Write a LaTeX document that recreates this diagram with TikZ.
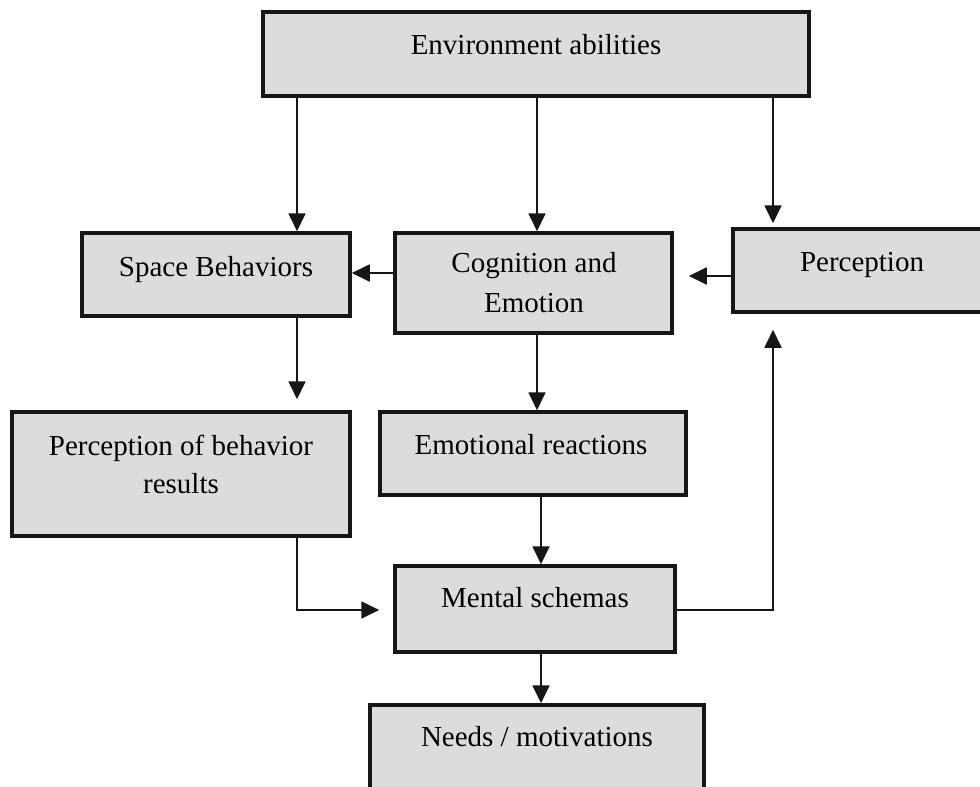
\documentclass[tikz,border=0pt]{standalone}
\usepackage{fontspec}
\setmainfont{Liberation Serif}
\usetikzlibrary{arrows.meta}
\definecolor{boxfill}{RGB}{220,220,220}
\definecolor{boxline}{RGB}{22,22,22}
\begin{document}
\begin{tikzpicture}[x=1pt,y=-1pt,
  box/.style={draw=boxline, fill=boxfill, line width=3.5pt, inner sep=0pt},
  txt/.style={anchor=base, inner sep=0pt, font=\fontsize{29}{35}\selectfont},
  arr/.style={line width=1.8pt, draw=boxline, -{Triangle[length=18pt,width=17pt]}}]
\useasboundingbox (0,0) rectangle (980,787);
% boxes
\node[box, minimum width=546pt, minimum height=84pt] (env) at (536,54) {};
\node[box, minimum width=268pt, minimum height=83pt] (sb) at (216,274.5) {};
\node[box, minimum width=277pt, minimum height=100pt] (cog) at (533.5,283) {};
\node[box, minimum width=262pt, minimum height=83pt] (perc) at (864,270.5) {};
\node[box, minimum width=338pt, minimum height=124pt] (pob) at (181,474) {};
\node[box, minimum width=306pt, minimum height=83pt] (emo) at (533,453.5) {};
\node[box, minimum width=280pt, minimum height=86pt] (mental) at (535,609) {};
\node[box, minimum width=334pt, minimum height=100pt] (needs) at (537,755) {};
% texts
\node[txt] (envt) at (536,54) {Environment abilities};
\node[txt] (sbt) at (216,276) {Space Behaviors};
\node[txt] (cogt1) at (534,272) {Cognition and};
\node[txt] (cogt2) at (534,312) {Emotion};
\node[txt] (perct) at (862,271) {Perception};
\node[txt] (pobt1) at (181,455) {Perception of behavior};
\node[txt] (pobt2) at (181,493) {results};
\node[txt] (emot) at (531,454) {Emotional reactions};
\node[txt] (mentalt) at (535,607) {Mental schemas};
\node[txt] (needst) at (537,746) {Needs / motivations};
% helper coordinates
\coordinate (xa) at (297,0);
\coordinate (xb) at (537,0);
\coordinate (xc) at (773,0);
\coordinate (xd) at (541,0);
\coordinate (ya) at (0,273);
\coordinate (yb) at (0,276);
\coordinate (yc) at (0,610);
% connectors
\draw[arr] (env.south -| xa) -- (sb.north -| xa);
\draw[arr] (env.south -| xb) -- (cog.north -| xb);
\draw[arr, shorten >=4pt] (env.south -| xc) -- (perc.north -| xc);
\draw[arr] (cog.west |- ya) -- (sb.east |- ya);
\draw[arr, shorten >=15pt] (perc.west |- yb) -- (cog.east |- yb);
\draw[arr, shorten >=11pt] (sb.south -| xa) -- (pob.north -| xa);
\draw[arr] (cog.south -| xb) -- (emo.north -| xb);
\draw[arr] (emo.south -| xd) -- (mental.north -| xd);
\draw[arr, shorten >=14pt] (pob.south -| xa) |- (mental.west |- yc);
\draw[arr, shorten >=16pt] (mental.east |- yc) -| (perc.south -| xc);
\draw[arr] (mental.south -| xd) -- (needs.north -| xd);
\end{tikzpicture}
\end{document}
